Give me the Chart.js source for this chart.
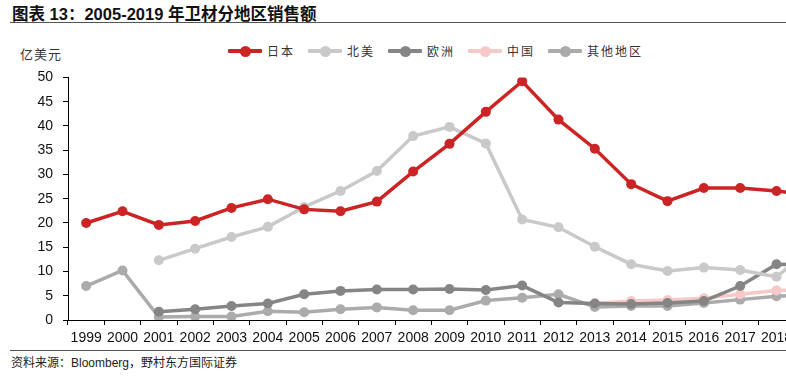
<!DOCTYPE html>
<html>
<head>
<meta charset="utf-8">
<script src="https://cdn.jsdelivr.net/npm/chart.js@4/dist/chart.umd.min.js"></script>
<style>
  html, body { margin:0; padding:0; background:#fff; width:786px; height:377px; overflow:hidden; position:relative; }
  #title { position:absolute; left:12px; top:1px; font:bold 16.5px "Liberation Sans","Noto Sans CJK SC",sans-serif; color:#111; white-space:nowrap; }
  #tline { position:absolute; left:10px; top:22px; width:800px; height:0; border-top:1.5px solid #555; }
  #unit { position:absolute; left:20px; top:44px; font:13px "Noto Sans CJK SC",sans-serif; color:#333; letter-spacing:1px; }
  #legend { position:absolute; left:228px; top:42px; height:18px; }
  .li { position:absolute; top:0; height:18px; }
  .li .ln { position:absolute; left:0; top:7px; width:34px; height:4px; border-radius:1px; }
  .li .dt { position:absolute; left:11.5px; top:3.5px; width:11px; height:11px; border-radius:50%; }
  .li .tx { position:absolute; left:39px; top:0; font:12px "Noto Sans CJK SC",sans-serif; color:#333; letter-spacing:2px; white-space:nowrap; line-height:18px; }
  #chartWrap { position:absolute; left:0; top:59px; width:840px; height:291px; }
  #bline { position:absolute; left:10px; top:350px; width:800px; height:0; border-top:1.5px solid #555; }
  #source { position:absolute; left:11px; top:353px; font:12px "Liberation Sans","Noto Sans CJK SC",sans-serif; color:#222; white-space:nowrap; }
</style>
</head>
<body>
<div id="title">图表 13：2005-2019 年卫材分地区销售额</div>
<div id="tline"></div>
<div id="unit">亿美元</div>
<div id="legend"></div>
<div id="chartWrap"><canvas id="c" width="840" height="291"></canvas></div>
<div id="bline"></div>
<div id="source">资料来源：Bloomberg，野村东方国际证券</div>
<script>
const years = ['1999','2000','2001','2002','2003','2004','2005','2006','2007','2008','2009','2010','2011','2012','2013','2014','2015','2016','2017','2018','2019'];
const japan = [20.0,22.4,19.6,20.4,23.1,24.9,22.8,22.4,24.4,30.6,36.3,42.9,49.2,41.3,35.3,28.0,24.5,27.2,27.2,26.6,25.7];
const northAmerica = [null,null,12.3,14.7,17.1,19.2,23.3,26.6,30.7,37.9,39.8,36.4,20.7,19.1,15.1,11.5,10.1,10.8,10.3,8.9,15.0];
const europe = [null,null,1.7,2.2,2.9,3.4,5.3,6.0,6.3,6.3,6.4,6.2,7.1,3.6,3.4,3.3,3.5,3.9,7.0,11.5,11.4];
const china = [null,null,null,null,null,null,null,null,null,null,null,null,null,null,3.4,3.9,4.1,4.5,5.3,6.1,6.3];
const others = [7.0,10.2,0.6,0.7,0.7,1.8,1.6,2.2,2.6,2.0,2.0,4.0,4.6,5.3,2.7,2.9,2.9,3.5,4.2,4.9,5.2];
const seriesNames = ['日本','北美','欧洲','中国','其他地区'];
const yTicks = [0,5,10,15,20,25,30,35,40,45,50];

const colors = ['#cc2424','#c9c9c9','#858585','#f5c9c7','#ababab'];
const seriesData = [japan, northAmerica, europe, china, others];

// legend
const lg = document.getElementById('legend');
seriesNames.forEach((n,i)=>{
  const d = document.createElement('div');
  d.className='li'; d.style.left=(i*80)+'px';
  d.innerHTML = '<div class="ln" style="background:'+colors[i]+'"></div><div class="dt" style="background:'+colors[i]+'"></div><div class="tx">'+n+'</div>';
  lg.appendChild(d);
});

const datasets = seriesNames.map((n,i)=>({
  label:n,
  data:seriesData[i],
  borderColor:colors[i],
  backgroundColor:colors[i],
  pointBackgroundColor:colors[i],
  pointBorderWidth:0,
  pointRadius:5,
  borderWidth:3.5,
  tension:0,
  fill:false
}));

new Chart(document.getElementById('c'), {
  type:'line',
  data:{ labels:years, datasets },
  options:{
    responsive:false,
    animation:false,
    layout:{ padding:{ top:0, right:9, left:0, bottom:0 } },
    plugins:{ legend:{display:false}, tooltip:{enabled:false} },
    scales:{
      x:{
        offset:true,
        grid:{ offset:true, drawOnChartArea:false, drawTicks:true, tickLength:5, color:'#000', lineWidth:1 },
        border:{ color:'#000', width:1 },
        ticks:{ color:'#111', font:{ family:'Liberation Sans', size:14 }, padding:5, maxRotation:0, autoSkip:false },
        afterFit:(s)=>{ s.height = 30; }
      },
      y:{
        min:0, max:50,
        afterBuildTicks:(s)=>{ s.ticks = yTicks.map(v=>({value:v})); },
        grid:{ drawOnChartArea:false, drawTicks:true, tickLength:5, color:'#000', lineWidth:1 },
        border:{ color:'#000', width:1 },
        ticks:{ color:'#111', font:{ family:'Liberation Sans', size:14 }, padding:10 },
        afterFit:(s)=>{ s.width = 68; }
      }
    }
  }
});
</script>
</body>
</html>
